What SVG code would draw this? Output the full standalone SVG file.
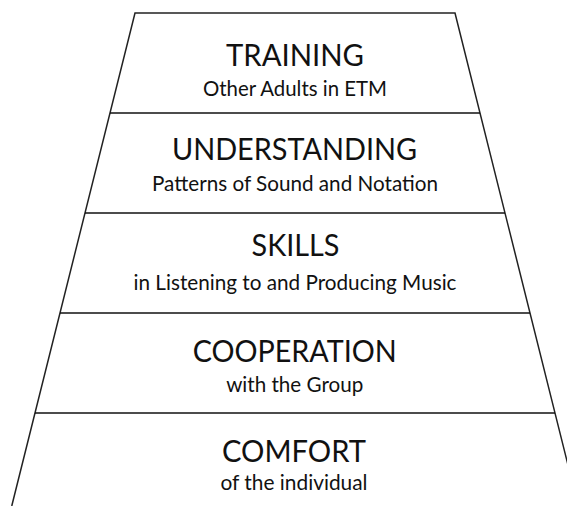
<svg xmlns="http://www.w3.org/2000/svg" width="567" height="506" viewBox="0 0 567 506">
  <style>
    .edge { fill: none; stroke: #222; stroke-width: 1.5; }
    .divider { stroke: #111; stroke-width: 1.5; }
    .title { font-family: Lato, "Liberation Sans", sans-serif; font-size: 30px; fill: #111; text-anchor: middle; }
    .sub { font-family: Lato, "Liberation Sans", sans-serif; font-size: 21px; fill: #111; text-anchor: middle; }
  </style>
  <rect width="567" height="506" fill="#fff"/>

  <!-- pyramid outline and tier dividers -->
  <g id="outline">
    <path class="edge" d="M11.75,506 L135,13 L455,13 L578.25,506"/>
    <line class="divider" x1="110" y1="113" x2="480" y2="113"/>
    <line class="divider" x1="85" y1="213" x2="505" y2="213"/>
    <line class="divider" x1="60" y1="313" x2="530" y2="313"/>
    <line class="divider" x1="35" y1="413" x2="555" y2="413"/>
  </g>

  <g id="tier-training">
    <text class="title" x="295" y="66" textLength="138" lengthAdjust="spacingAndGlyphs">TRAINING</text>
    <text class="sub" x="295" y="96" textLength="184" lengthAdjust="spacingAndGlyphs">Other Adults in ETM</text>
  </g>
  <g id="tier-understanding">
    <text class="title" x="294.5" y="160" textLength="245" lengthAdjust="spacingAndGlyphs">UNDERSTANDING</text>
    <text class="sub" x="295" y="191" textLength="286" lengthAdjust="spacingAndGlyphs">Patterns of Sound and Notation</text>
  </g>
  <g id="tier-skills">
    <text class="title" x="295.5" y="256" textLength="88" lengthAdjust="spacingAndGlyphs">SKILLS</text>
    <text class="sub" x="295" y="290" textLength="323" lengthAdjust="spacingAndGlyphs">in Listening to and Producing Music</text>
  </g>
  <g id="tier-cooperation">
    <text class="title" x="294.7" y="362" textLength="204" lengthAdjust="spacingAndGlyphs">COOPERATION</text>
    <text class="sub" x="294.7" y="392" textLength="137" lengthAdjust="spacingAndGlyphs">with the Group</text>
  </g>
  <g id="tier-comfort">
    <text class="title" x="294" y="462" textLength="144" lengthAdjust="spacingAndGlyphs">COMFORT</text>
    <text class="sub" x="294" y="490" textLength="147" lengthAdjust="spacingAndGlyphs">of the individual</text>
  </g>
</svg>
